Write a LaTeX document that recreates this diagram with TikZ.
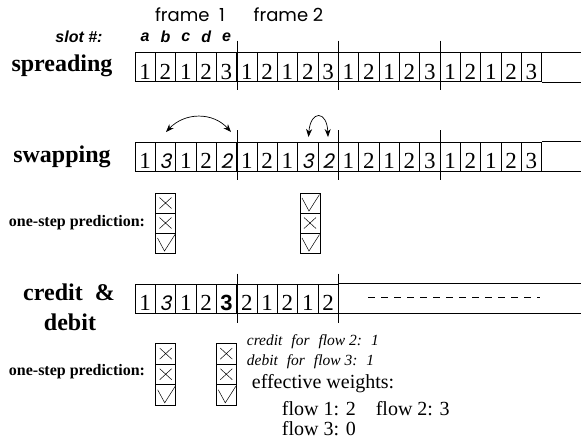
\documentclass[tikz,border=0pt]{standalone}
\usepackage{fontspec}
\setmainfont{Liberation Serif}
\newfontfamily\gothic{Poppins}
\newfontfamily\gothicit{Poppins}[FakeSlant=0.2]
\newfontfamily\helv{Liberation Sans}
\usetikzlibrary{arrows.meta,calc}
\newcommand\cN{\fontsize{23}{23}\selectfont}
\newcommand\cI{\gothicit\fontsize{20}{20}\selectfont}
\newcommand\cB{\helv\bfseries\fontsize{22}{22}\selectfont}
\begin{document}
\begin{tikzpicture}[x=1pt,y=-1pt,
  cell/.style={draw, line width=0.6pt, minimum width=20.33pt, text height=26.5pt, text depth=2.5pt, inner xsep=0pt, inner ysep=0pt},
  boxline/.style={line width=0.6pt},
  frameline/.style={line width=0.6pt},
  tick/.style={draw, line width=0.6pt, minimum width=20pt, minimum height=20pt, inner sep=0pt},
  xmark/.style={tick, path picture={\draw[line width=0.5pt]
      ([shift={(-6,-5.5)}]path picture bounding box.center) -- ([shift={(6,5.5)}]path picture bounding box.center)
      ([shift={(-6,5.5)}]path picture bounding box.center) -- ([shift={(6,-5.5)}]path picture bounding box.center);}},
  vmark/.style={tick, path picture={\draw[line width=0.5pt]
      ([shift={(-8,-5)}]path picture bounding box.center) -- ([shift={(-1,8)}]path picture bounding box.center)
      -- ([shift={(9.5,-8.5)}]path picture bounding box.center);}},
  title/.style={font=\bfseries\fontsize{24}{24}\selectfont, inner sep=0pt},
  pred/.style={font=\bfseries\fontsize{16}{16}\selectfont, inner sep=0pt},
  slotlab/.style={font=\helv\bfseries\itshape\fontsize{16}{16}\selectfont, inner sep=0pt},
  framelab/.style={font=\gothic\fontsize{18}{18}\selectfont, inner sep=0pt},
  swaparrow/.style={line width=0.7pt, {Stealth[length=8pt,width=6pt]}-{Stealth[length=8pt,width=6pt]}},
  note/.style={font=\itshape\fontsize{15.5}{15.5}\selectfont, inner sep=0pt, anchor=base west},
  weight/.style={font=\fontsize{20}{20}\selectfont, inner sep=0pt, anchor=base west}
]
\useasboundingbox (0,0) rectangle (581,440);
\coordinate (edge) at (581,0);

% header labels
\node[framelab] (f1) at (190,15) {frame\ \ 1};
\node[framelab] (f2) at (288.5,15) {frame 2};
\node[slotlab] (slot) at (79,37) {slot \#:};

% row 1: spreading
\foreach \d [count=\i] in {1,2,1,2,3,1,2,1,2,3,1,2,1,2,3,1,2,1,2,3}
  \node[cell] (r1c\i) at ({135+(\i-0.5)*20.33},67) {\cN\d};
\draw[boxline] (r1c20.north east) -- (r1c20.north east -| edge);
\draw[boxline] (r1c20.south east) -- (r1c20.south east -| edge);
\foreach \k in {5,10,15}
  \draw[frameline] ($(r1c\k.north east)+(0,-11.5)$) -- ($(r1c\k.south east)+(0,8.5)$);
\foreach \l [count=\i] in {a,b,c,d,e}
  \node[slotlab] (lab\l) at (r1c\i |- slot) {\l};
\node[title] (t1) at (62,66) {spreading};

% row 2: swapping
\foreach \s/\d [count=\i] in {\cN/1,\cI/3,\cN/1,\cN/2,\cI/2,\cN/1,\cN/2,\cN/1,\cI/3,\cI/2,\cN/1,\cN/2,\cN/1,\cN/2,\cN/3,\cN/1,\cN/2,\cN/1,\cN/2,\cN/3}
  \node[cell] (r2c\i) at ({135+(\i-0.5)*20.33},156.5) {\s\d};
\draw[boxline] (r2c20.north east) -- (r2c20.north east -| edge);
\draw[boxline] (r2c20.south east) -- (r2c20.south east -| edge);
\foreach \k in {5,10,15}
  \draw[frameline] ($(r2c\k.north east)+(0,-11.5)$) -- ($(r2c\k.south east)+(0,8.5)$);
\node[title] (t2) at (62,157) {swapping};

% swap arrows
\coordinate (sa1) at (166,132);
\coordinate (sa2) at (231,132);
\coordinate (sb1) at (308.5,137);
\coordinate (sb2) at (328,137);
\draw[swaparrow] (sa1) .. controls ($(sa1)+(19,-20)$) and ($(sa2)+(-18,-20)$) .. (sa2);
\draw[swaparrow] (sb1) .. controls ($(sb1)+(2,-27)$) and ($(sb2)+(-1,-27)$) .. (sb2);

% prediction 1
\node[pred] (p1) at (77,223) {one-step prediction:};
\node[xmark] (ua1) at (165.5,203) {};
\node[xmark] (ua2) at (165.5,223) {};
\node[vmark] (ua3) at (165.5,243) {};
\node[vmark] (ub1) at (310,203) {};
\node[xmark] (ub2) at (310,223) {};
\node[vmark] (ub3) at (310,243) {};

% row 3: credit & debit
\foreach \s/\d [count=\i] in {\cN/1,\cI/3,\cN/1,\cN/2,\cB/3,\cN/2,\cN/1,\cN/2,\cN/1,\cN/2}
  \node[cell] (r3c\i) at ({135+(\i-0.5)*20.33},298.5) {\s\d};
\draw[boxline] (r3c10.north east) -- (r3c10.north east -| edge);
\draw[boxline] (r3c10.south east) -- (r3c10.south east -| edge);
\foreach \k in {5,10}
  \draw[frameline] ($(r3c\k.north east)+(0,-10)$) -- ($(r3c\k.south east)+(0,10)$);
\coordinate (d1) at (368,297.5);
\coordinate (d2) at (540,297.5);
\draw[line width=0.7pt, dash pattern=on 6.5pt off 6.5pt] (d1) -- (d2);
\node[title] (t3a) at (69,292) {credit\ \ \&};
\node[title] (t3b) at (70,322) {debit};

% prediction 2
\node[pred] (p2) at (77,372) {one-step prediction:};
\node[xmark, minimum height=20.6pt] (la1) at (165.7,353.6) {};
\node[xmark, minimum height=20.6pt] (la2) at (165.7,374.2) {};
\node[vmark, minimum height=20.6pt] (la3) at (165.7,394.8) {};
\node[xmark, minimum height=20.6pt] (lb1) at (226.3,353.6) {};
\node[xmark, minimum height=20.6pt] (lb2) at (226.3,374.2) {};
\node[vmark, minimum height=20.6pt] (lb3) at (226.3,394.8) {};

% notes
\node[note] (n1) at (246.7,345) {credit\hspace{9pt}for\hspace{9pt}flow 2:\hspace{9pt}1};
\node[note] (n2) at (246.7,365.7) {debit\hspace{9pt}for\hspace{9pt}flow 3:\hspace{9pt}1};
\node[weight] (w0) at (251.7,388.3) {effective weights:};
\node[weight] (w1) at (281.7,415) {flow 1: 2\hspace{20pt}flow 2: 3};
\node[weight] (w2) at (281.7,435) {flow 3: 0};
\end{tikzpicture}
\end{document}
